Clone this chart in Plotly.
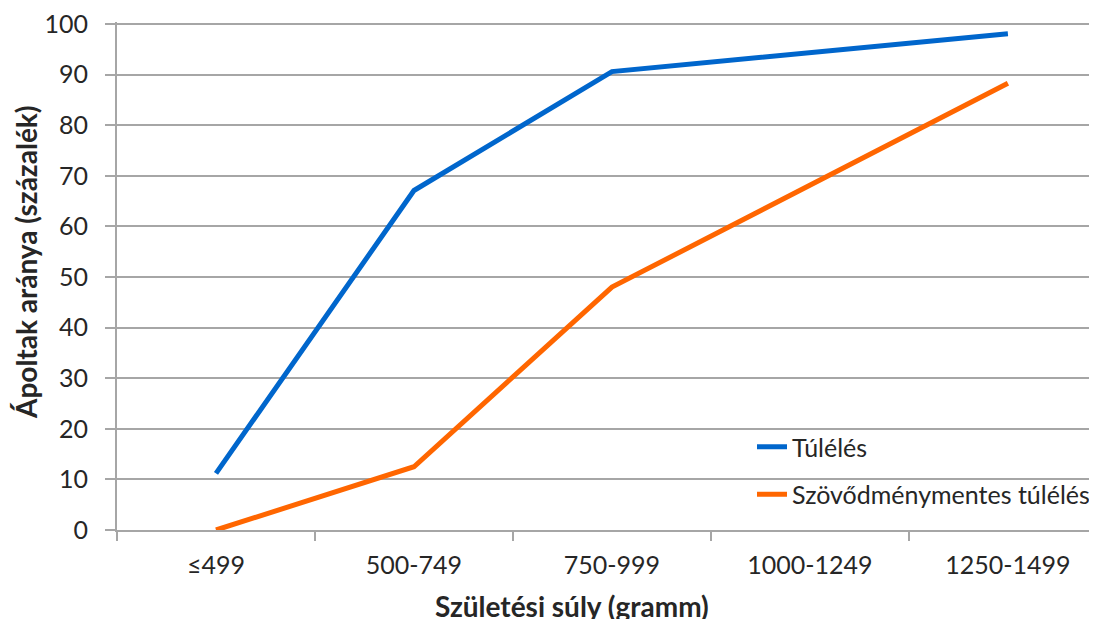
import plotly.graph_objects as go

categories = ["≤499", "500-749", "750-999", "1000-1249", "1250-1499"]
survival = [11.2, 67.1, 90.6, None, 98.1]
survival_no_complications = [0, 12.5, 48.0, None, 88.3]
series_names = ["Túlélés", "Szövődménymentes túlélés"]
y_ticks = [0, 10, 20, 30, 40, 50, 60, 70, 80, 90, 100]

FONT = "Lato"
TXT = "#262626"
GRID = "#A6A6A6"
# page body has an 8px margin; figure sized to fit the window
W, H = 1089, 611
YMAX = 100.4
PL, PB, PR = 117, 530, 1097
PT = PB - 506 * YMAX / 100.0       # plot area top in screen pixels
OFF = 8
PW, PH = PR - PL, PB - PT


def px(x):
    return (x - PL) / PW


def py(y):
    return (PB - y) / PH


fig = go.Figure()
fig.add_trace(go.Scatter(x=categories, y=survival, mode="lines", name=series_names[0],
                         legendgroup="a", line=dict(color="#0066CC", width=5), connectgaps=True))
fig.add_trace(go.Scatter(x=categories, y=survival_no_complications, mode="lines", name=series_names[1],
                         legendgroup="b", line=dict(color="#FF6600", width=5), connectgaps=True))

fig.update_layout(
    width=W, height=H,
    margin=dict(l=PL - OFF, r=W - (PR - OFF), t=PT - OFF, b=H - (PB - OFF), autoexpand=False),
    paper_bgcolor="white", plot_bgcolor="white",
    font=dict(family=FONT, size=25, color=TXT),
    showlegend=True,
    legend=dict(x=px(752), y=py(424), xanchor="left", yanchor="top",
                bgcolor="rgba(0,0,0,0)", font=dict(family=FONT, size=25, color=TXT),
                itemwidth=30, tracegroupgap=12),
    shapes=[dict(type="rect", xref="paper", yref="paper", x0=px(727), x1=1.0,
                 y0=py(515), y1=py(424), fillcolor="white", line=dict(width=0), layer="between")],
    xaxis=dict(type="category", range=[-0.5, 4.45], showgrid=False,
               showline=True, linecolor=GRID, linewidth=2,
               ticks="outside", tickson="boundaries", ticklen=9, tickcolor=GRID, tickwidth=2,
               tickfont=dict(family=FONT, size=25, color=TXT),
               ticklabelstandoff=12),
    yaxis=dict(range=[0, YMAX], tickmode="array", tickvals=y_ticks, ticktext=[str(v) for v in y_ticks],
               showgrid=True, gridcolor=GRID, gridwidth=2,
               showline=True, linecolor=GRID, linewidth=2,
               ticks="outside", ticklen=10, tickcolor=GRID, tickwidth=2,
               tickfont=dict(family=FONT, size=25, color=TXT), zeroline=False,
               ticklabeloverflow="allow", ticklabelstandoff=12),
    annotations=[
        dict(text="<b>Ápoltak aránya (százalék)</b>", xref="paper", yref="paper",
             x=px(26), y=py(262), xanchor="center", yanchor="middle",
             textangle=-90, showarrow=False, font=dict(family=FONT, size=28, color=TXT)),
        dict(text="<b>Születési súly (gramm)</b>", xref="paper", yref="paper",
             x=px(572), y=py(606), xanchor="center", yanchor="middle",
             showarrow=False, font=dict(family=FONT, size=28, color=TXT)),
    ],
)

fig.write_html("out.html")
